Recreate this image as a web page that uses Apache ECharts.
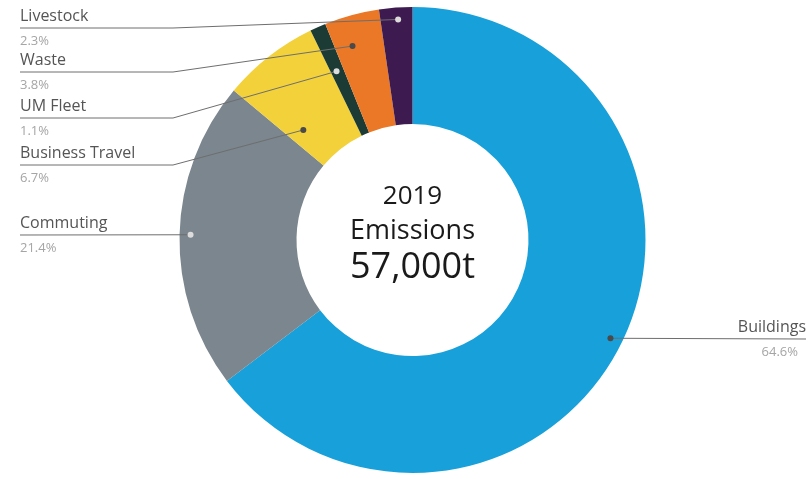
<!DOCTYPE html>
<html>
<head>
<meta charset="utf-8">
<script src="https://cdn.jsdelivr.net/npm/echarts@6/dist/echarts.min.js"></script>
<style>html,body{margin:0;padding:0;background:#fff}#c{width:809px;height:479px}</style>
</head>
<body>
<div id="c"></div>
<script>
// ---- data ----
const categories = ['Buildings', 'Commuting', 'Business Travel', 'UM Fleet', 'Waste', 'Livestock'];
const shares = [64.6, 21.4, 6.7, 1.1, 3.8, 2.3];
const centerLines = ['2019', 'Emissions', '57,000t'];

// ---- styling / layout ----
const colors = ['#17a0d9', '#7c868e', '#f2d13a', '#1b3b34', '#ea7826', '#3d1a50'];
const dotColors = ['#4a4a4a', '#dcdcdc', '#4a4a4a', '#dcdcdc', '#4a4a4a', '#dcdcdc'];
const dotRadius = [221, 222, 155, 185, 203, 221];   // px from centre
const dotFrac = [0.5, 0.5, 0.22, 0.43, 0.35, 0.55]; // where in the slice the dot sits
const lineY = [339, 235, 165, 118, 72, 28];          // y of label underline
const CX = 412.5, CY = 240, R_IN = 116, R_OUT = 233;
const LEFT_X = 20, ELBOW_X = 173, RIGHT_X = 806;

const total = shares.reduce((a, b) => a + b, 0);
const dotAngle = [];
let acc = 0;
shares.forEach((v, i) => { dotAngle.push(acc + v * dotFrac[i]); acc += v; });

const chart = echarts.init(document.getElementById('c'));
const font = '"Open Sans", sans-serif';

function renderLabel(params, api) {
  const i = params.dataIndex;
  const d = api.coord([api.value(0), api.value(1)]);
  const y = lineY[i];
  const right = i === 0;
  const endX = right ? RIGHT_X : LEFT_X;
  let pts;
  if (right || i === 1) pts = [d, [endX, y]];
  else pts = [d, [ELBOW_X, y], [endX, y]];
  return {
    type: 'group',
    children: [
      { type: 'polyline', shape: { points: pts }, style: { stroke: '#6e6e6e', lineWidth: 1, fill: null } },
      { type: 'circle', shape: { cx: d[0], cy: d[1], r: 3 }, style: { fill: dotColors[i] } },
      { type: 'text', x: endX, y: y - 12,
        style: { text: categories[i], font: '16px ' + font, fill: '#555555', align: right ? 'right' : 'left', verticalAlign: 'middle' } },
      { type: 'text', x: right ? endX - 8 : endX, y: y + 13,
        style: { text: shares[i].toFixed(1) + '%', font: '13px ' + font, fill: '#a5a5a5', align: right ? 'right' : 'left', verticalAlign: 'middle' } }
    ]
  };
}

chart.setOption({
  animation: false,
  backgroundColor: '#fff',
  polar: { center: [CX, CY], radius: [0, R_OUT] },
  angleAxis: { type: 'value', min: 0, max: total, startAngle: 90, clockwise: true, show: false },
  radiusAxis: { type: 'value', min: 0, max: R_OUT, show: false },
  series: [
    {
      type: 'pie',
      center: [CX, CY],
      radius: [R_IN, R_OUT],
      startAngle: 90,
      clockwise: true,
      silent: true,
      z: 1,
      data: categories.map((c, i) => ({ name: c, value: shares[i], itemStyle: { color: colors[i] } })),
      label: { show: false },
      labelLine: { show: false }
    },
    {
      type: 'custom',
      coordinateSystem: 'polar',
      silent: true,
      z: 5,
      data: categories.map((c, i) => [dotRadius[i], dotAngle[i]]),
      renderItem: renderLabel
    }
  ],
  graphic: [
    { type: 'text', x: CX, y: 197, style: { text: centerLines[0], font: '26px "Open Sans", sans-serif', fill: '#1a1a1a', align: 'center', verticalAlign: 'middle' } },
    { type: 'text', x: CX, y: 231, style: { text: centerLines[1], font: '27px "Open Sans", sans-serif', fill: '#1a1a1a', align: 'center', verticalAlign: 'middle' } },
    { type: 'text', x: CX, y: 268, style: { text: centerLines[2], font: '36px "Open Sans", sans-serif', fill: '#1a1a1a', align: 'center', verticalAlign: 'middle' } }
  ]
});
</script>
</body>
</html>
